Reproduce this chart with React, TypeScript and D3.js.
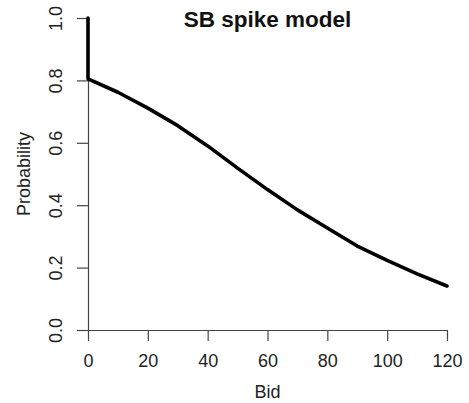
import React, { useEffect, useRef } from "react";
import * as d3 from "d3";

// bid values and estimated win probability
const bids = [0, 0, 10, 20, 30, 40, 50, 60, 70, 80, 90, 100, 110, 120];
const probs = [1.0, 0.805, 0.762, 0.711, 0.655, 0.59, 0.519, 0.45, 0.385, 0.327, 0.269, 0.223, 0.18, 0.141];
const xTicks = [0, 20, 40, 60, 80, 100, 120];
const yTicks = [0, 0.2, 0.4, 0.6, 0.8, 1.0];

const title = "SB spike model";
const xLabel = "Bid";
const yLabel = "Probability";

const App = () => {
  const svgRef = useRef<SVGSVGElement>(null);

  useEffect(() => {
    const svg = d3.select(svgRef.current);
    svg.selectAll("*").remove();

    const width = 469;
    const height = 403;
    const margin = { top: 18, right: 22, bottom: 73, left: 88 };
    const font = "'Liberation Sans', Arial, Helvetica, sans-serif";
    const axisColor = "#444";

    const x = d3
      .scaleLinear()
      .domain([0, 120])
      .range([margin.left, width - margin.right]);
    const y = d3
      .scaleLinear()
      .domain([0, 1])
      .range([height - margin.bottom, margin.top]);

    const data = bids.map((b, i) => ({ bid: b, p: probs[i] }));

    // x axis (R style: only bottom + left)
    const xAxis = svg
      .append("g")
      .attr("transform", `translate(0,${y(0)})`)
      .call(d3.axisBottom(x).tickValues(xTicks).tickSize(11).tickSizeOuter(0).tickPadding(0));
    xAxis.select(".domain").attr("stroke", axisColor).attr("stroke-width", 1.2);
    xAxis.selectAll(".tick line").attr("stroke", axisColor).attr("stroke-width", 1.2);
    xAxis
      .selectAll(".tick text")
      .attr("y", 37)
      .attr("dy", null)
      .attr("fill", "#222")
      .style("font-family", font)
      .style("font-size", "18px");

    const yAxis = svg
      .append("g")
      .attr("transform", `translate(${x(0)},0)`)
      .call(
        d3
          .axisLeft(y)
          .tickValues(yTicks)
          .tickSize(11)
          .tickSizeOuter(0)
          .tickFormat(d3.format(".1f"))
      );
    yAxis.select(".domain").attr("stroke", axisColor).attr("stroke-width", 1.2);
    yAxis.selectAll(".tick line").attr("stroke", axisColor).attr("stroke-width", 1.2);
    yAxis
      .selectAll(".tick text")
      .attr("x", null)
      .attr("dy", null)
      .attr("transform", "translate(-26,0) rotate(-90)")
      .attr("text-anchor", "middle")
      .attr("fill", "#222")
      .style("font-family", font)
      .style("font-size", "18px");

    // the curve
    const line = d3
      .line<{ bid: number; p: number }>()
      .x((d) => x(d.bid))
      .y((d) => y(d.p));
    svg
      .append("path")
      .datum(data)
      .attr("d", line)
      .attr("fill", "none")
      .attr("stroke", "#000")
      .attr("stroke-width", 3.6)
      .attr("stroke-linejoin", "round")
      .attr("stroke-linecap", "round");

    const cx = (x(0) + x(120)) / 2;
    svg
      .append("text")
      .attr("x", cx)
      .attr("y", 27)
      .attr("text-anchor", "middle")
      .attr("font-weight", "bold")
      .attr("fill", "#111")
      .style("font-family", font)
      .style("font-size", "22.5px")
      .text(title);

    svg
      .append("text")
      .attr("x", cx)
      .attr("y", 398)
      .attr("text-anchor", "middle")
      .attr("fill", "#222")
      .style("font-family", font)
      .style("font-size", "18px")
      .text(xLabel);

    svg
      .append("text")
      .attr("transform", `translate(29.5,${(y(0) + y(1)) / 2}) rotate(-90)`)
      .attr("text-anchor", "middle")
      .attr("fill", "#222")
      .style("font-family", font)
      .style("font-size", "18px")
      .text(yLabel);
  }, []);

  return (
    <svg
      ref={svgRef}
      width={469}
      height={403}
      style={{ position: "absolute", left: 0, top: 0, background: "#fff" }}
    ></svg>
  );
};

export default App;
